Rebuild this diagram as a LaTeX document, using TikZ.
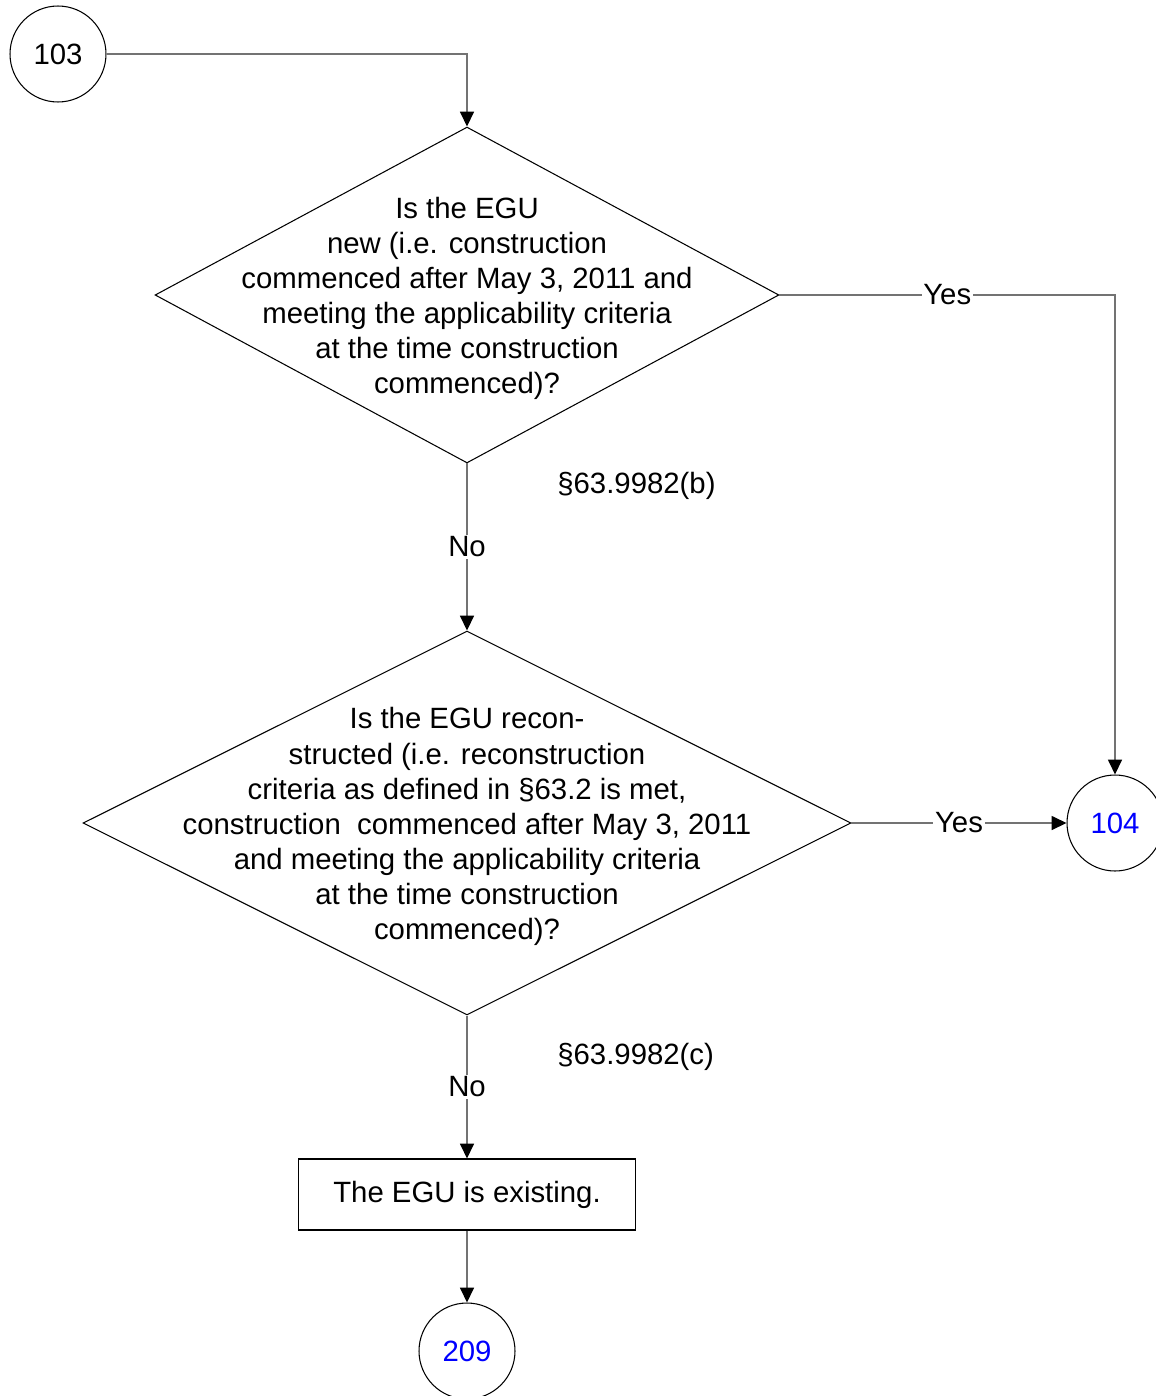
\documentclass[tikz,border=0pt]{standalone}
\usepackage{fontspec}
\setmainfont{Liberation Sans}
\usetikzlibrary{positioning}
\usetikzlibrary{shapes.geometric}
\usetikzlibrary {arrows.meta}
\tikzset{offpage/.style={circle,draw=black,fill=white,line width=0.6pt,
inner sep=0pt,minimum size=1.92cm,font=\fontsize{16.7}{20}\selectfont}}
\tikzset{decision/.style={diamond,draw=black,fill=white,line width=0.6pt,
inner sep=0pt}}
\tikzset{decisiontext/.style={align=center,inner sep=0pt,
font=\fontsize{16.7}{19.95}\selectfont}}
\tikzset{outcome/.style={rectangle,draw=black,fill=white,line width=0.6pt,
inner sep=2pt,minimum width=6.74cm,minimum height=1.42cm,font=\fontsize{16.7}{20}\selectfont}}
\tikzset{answer/.style={rectangle,draw=none,fill=white,
inner sep=1pt,font=\fontsize{16.7}{20}\selectfont}}
\tikzset{ruleref/.style={draw=none,inner sep=0pt,anchor=west,font=\fontsize{16.7}{20}\selectfont}}
\tikzset{flow/.style={draw=black!55,line width=0.8pt,-{Triangle[length=8.5pt,width=8pt,black]}}}

\begin{document}
\begin{tikzpicture}[x=0.02cm,y=-0.02cm]
        \useasboundingbox (0,0) rectangle (1156,1396);

        \node[offpage] (c103) at (58,54) {103};

        \node[decision,minimum width=12.48cm,minimum height=6.72cm] (q1) at (467,295) {};
        \node[decisiontext] (q1text) at ([yshift=-2]q1) {Is the EGU\\new (i.e. construction\\commenced after May 3, 2011 and\\meeting the applicability criteria\\at the time construction\\commenced)?};

        \node[decision,minimum width=15.36cm,minimum height=7.68cm] (q2) at (467,823) {};
        \node[decisiontext] (q2text) at ([yshift=-2]q2) {Is the EGU recon-\\structed (i.e. reconstruction\\criteria as defined in §63.2 is met,\\construction\ \ commenced after May 3, 2011\\and meeting the applicability criteria\\at the time construction\\commenced)?};

        \node[offpage,text=blue] (c104) at (1115,823) {104};
        \node[outcome] (existing) at (467,1194.5) {The EGU is existing.};
        \node[offpage,text=blue] (c209) at (467,1351) {209};

        \node[ruleref] (refb) at (557,486) {§63.9982(b)};
        \node[ruleref] (refc) at (557,1057) {§63.9982(c)};

        % connectors
        \draw[flow] (c103.east) -| (q1.north);
        \draw[flow] (q1.east) -| node[answer,pos=0.25] {Yes} (c104.north);
        \draw[flow] (q1.south) -- node[answer] {No} (q2.north);
        \draw[flow] (q2.east) -- node[answer] {Yes} (c104.west);
        \draw[flow] (q2.south) -- node[answer] {No} (existing.north);
        \draw[flow] (existing.south) -- (c209.north);

    \end{tikzpicture}
\end{document}
